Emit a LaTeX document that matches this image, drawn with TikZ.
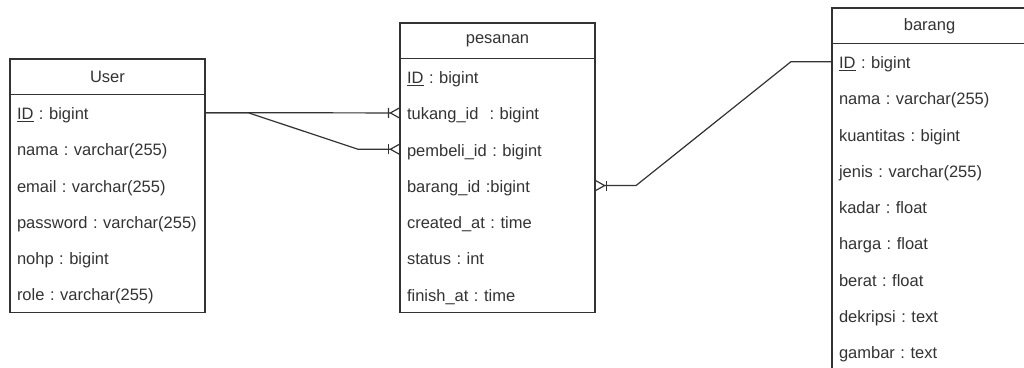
\documentclass[tikz,border=0pt]{standalone}
\usepackage{fontspec}
\setmainfont{Liberation Sans}
\usetikzlibrary{arrows.meta,positioning}
\frenchspacing

\begin{document}
\begin{tikzpicture}
	[x=1pt,y=-1pt,line width=1.2pt,color=black!80,
		font=\fontsize{16.5}{19}\selectfont,
		head node/.style={draw,minimum width=195pt,minimum height=35.5pt,inner sep=0pt,outer sep=0pt,anchor=north west},
		field node/.style={minimum width=195pt,minimum height=36.3pt,text width=181pt,inner xsep=7pt,inner ysep=0pt,
			outer sep=0pt,align=left,text height=14.5pt,text depth=1pt},
		one many/.style={-{Bar[width=10pt,length=1.2pt,sep=0pt]Straight Barb[reversed,length=9pt,width=10pt,sep=0pt]}}]

	\useasboundingbox (0,0) rectangle (1024,367);

	% User
	\node[head node,alias=user-0] (user) at (10,59) {User};
	\foreach \f [count=\i,remember=\i as \j (initially 0)] in
		{{\underline{ID} : bigint},nama : varchar(255),email : varchar(255),
		password : varchar(255),nohp : bigint,role : varchar(255)}
		\node[field node,below=0pt of user-\j] (user-\i) {\mbox{\f}};
	\draw (user.south west) rectangle (user-6.south east);

	% pesanan
	\node[head node,alias=pesanan-0] (pesanan) at (400,23) {pesanan};
	\foreach \f [count=\i,remember=\i as \j (initially 0)] in
		{{\underline{ID} : bigint},tukang\_id \ : bigint,pembeli\_id : bigint,
		barang\_id :bigint,created\_at : time,status : int,finish\_at : time}
		\node[field node,below=0pt of pesanan-\j] (pesanan-\i) {\mbox{\f}};
	\draw (pesanan.south west) rectangle (pesanan-7.south east);

	% barang
	\node[head node,alias=barang-0] (barang) at (832,8) {barang};
	\foreach \f [count=\i,remember=\i as \j (initially 0)] in
		{{\underline{ID} : bigint},nama : varchar(255),kuantitas : bigint,
		jenis : varchar(255),kadar : float,harga : float,berat : float,
		dekripsi : text,gambar : text}
		\node[field node,below=0pt of barang-\j] (barang-\i) {\mbox{\f}};
	\draw (barang.south west) rectangle (barang-9.south east);

	% relations
	\draw[one many] (user-1.east) -- (pesanan-2.west);
	\draw[one many] (user-1.east) -- ++(43,0) -- ([xshift=-42pt]pesanan-3.west) -- (pesanan-3.west);
	\draw[one many] (barang-1.west) -- ++(-41,0) -- ([xshift=41pt]pesanan-4.east) -- (pesanan-4.east);
\end{tikzpicture}
\end{document}
